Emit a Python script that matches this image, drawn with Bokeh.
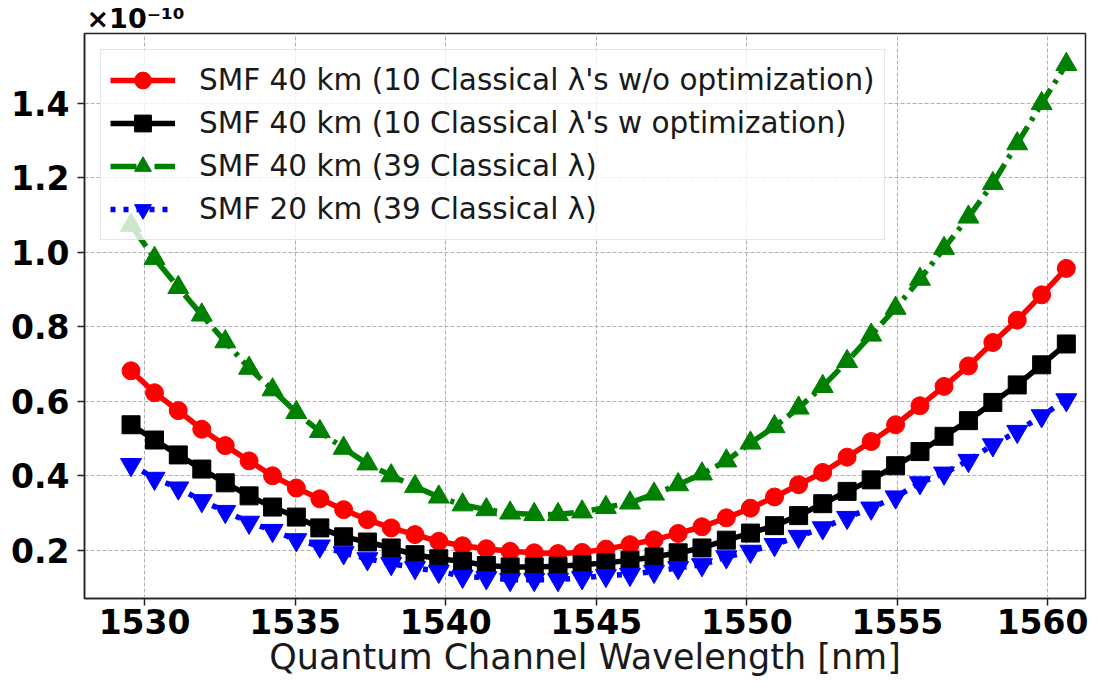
from bokeh.plotting import figure
from bokeh.models import FixedTicker, Legend, LegendItem, Range1d
from bokeh.embed import file_html
from bokeh.resources import INLINE

# ---- data (values in units of 1e-10) ----
wavelength_nm = [1529.55, 1530.33, 1531.12, 1531.90, 1532.68, 1533.47, 1534.25, 1535.04,
                 1535.82, 1536.61, 1537.40, 1538.19, 1538.98, 1539.77, 1540.56, 1541.35,
                 1542.14, 1542.94, 1543.73, 1544.53, 1545.32, 1546.12, 1546.92, 1547.72,
                 1548.51, 1549.32, 1550.12, 1550.92, 1551.72, 1552.52, 1553.33, 1554.13,
                 1554.94, 1555.75, 1556.55, 1557.36, 1558.17, 1558.98, 1559.79, 1560.61]

smf40_10_no_opt = [0.682, 0.623, 0.575, 0.525, 0.481, 0.440, 0.400, 0.367, 0.338, 0.309,
                   0.282, 0.260, 0.242, 0.224, 0.212, 0.204, 0.197, 0.193, 0.191, 0.194,
                   0.203, 0.215, 0.228, 0.245, 0.263, 0.287, 0.313, 0.343, 0.376, 0.409,
                   0.450, 0.492, 0.537, 0.588, 0.640, 0.695, 0.758, 0.818, 0.886, 0.957]

smf40_10_opt = [0.537, 0.496, 0.456, 0.418, 0.381, 0.346, 0.316, 0.289, 0.260, 0.236,
                0.222, 0.206, 0.188, 0.177, 0.170, 0.159, 0.155, 0.155, 0.157, 0.161,
                0.166, 0.173, 0.182, 0.193, 0.206, 0.227, 0.246, 0.266, 0.293, 0.325,
                0.358, 0.389, 0.427, 0.465, 0.506, 0.548, 0.597, 0.644, 0.698, 0.754]

smf40_39 = [1.073, 0.984, 0.906, 0.832, 0.760, 0.689, 0.631, 0.570, 0.519, 0.474,
            0.432, 0.400, 0.371, 0.343, 0.322, 0.309, 0.300, 0.296, 0.296, 0.303,
            0.315, 0.327, 0.351, 0.376, 0.405, 0.440, 0.488, 0.532, 0.582, 0.640,
            0.707, 0.778, 0.850, 0.928, 1.011, 1.095, 1.185, 1.292, 1.400, 1.505]

smf20_39 = [0.430, 0.393, 0.367, 0.333, 0.304, 0.275, 0.253, 0.228, 0.211, 0.193,
            0.177, 0.164, 0.153, 0.143, 0.130, 0.126, 0.121, 0.121, 0.121, 0.126,
            0.132, 0.135, 0.143, 0.153, 0.161, 0.182, 0.197, 0.215, 0.237, 0.260,
            0.288, 0.313, 0.343, 0.381, 0.407, 0.441, 0.483, 0.519, 0.561, 0.604]

series_labels = ["SMF 40 km (10 Classical \u03bb's w/o optimization)",
                 "SMF 40 km (10 Classical \u03bb's w optimization)",
                 "SMF 40 km (39 Classical \u03bb)",
                 "SMF 20 km (39 Classical \u03bb)"]

x_ticks = [1530, 1535, 1540, 1545, 1550, 1555, 1560]
y_ticks = [0.2, 0.4, 0.6, 0.8, 1.0, 1.2, 1.4]
y_tick_labels = ["0.2", "0.4", "0.6", "0.8", "1.0", "1.2", "1.4"]
x_label = "Quantum Channel Wavelength [nm]"
offset_text = "\u00d710\u207b\u00b9\u2070"

FONT = "DejaVu Sans"
X0, X1 = 1528.005, 1561.247
Y0, Y1 = 0.0703, 1.588

p = figure(width=1088, height=679, output_backend="svg", toolbar_location=None,
           x_range=Range1d(X0, X1), y_range=Range1d(Y0, Y1),
           min_border_left=84, min_border_right=3, min_border_top=33, min_border_bottom=80)
p.background_fill_color = "white"
p.border_fill_color = "white"
p.outline_line_color = "#222222"
p.outline_line_width = 1.5

# offset text (x10^-10) shown as the title, left aligned above the frame
p.title.text = offset_text
p.title.align = "left"
p.title.offset = 2
p.title.standoff = 0
p.title.text_font = FONT
p.title.text_font_style = "bold"
p.title.text_font_size = "27px"
p.title.text_color = "black"

# axes
for ax in (p.xaxis[0], p.yaxis[0]):
    ax.major_label_text_font = FONT
    ax.major_label_text_font_style = "bold"
    ax.major_label_text_font_size = "33px"
    ax.major_label_text_color = "black"
    ax.axis_line_color = "#222222"
    ax.axis_line_width = 1.5
    ax.major_tick_line_color = "#222222"
    ax.major_tick_line_width = 1.5
    ax.major_tick_out = 7
    ax.major_tick_in = 0
    ax.minor_tick_line_color = None

p.xaxis.ticker = FixedTicker(ticks=x_ticks)
p.yaxis.ticker = FixedTicker(ticks=y_ticks)
p.yaxis.major_label_overrides = {t: s for t, s in zip(y_ticks, y_tick_labels)}
p.xaxis.major_label_standoff = 3
p.yaxis.major_label_standoff = 8
p.xaxis.axis_label = x_label
p.xaxis.axis_label_text_font = FONT
p.xaxis.axis_label_text_font_style = "normal"
p.xaxis.axis_label_text_font_size = "35px"
p.xaxis.axis_label_text_color = "#1a1a1a"
p.xaxis.axis_label_standoff = 0

# grid
for g in (p.xgrid[0], p.ygrid[0]):
    g.grid_line_color = "#b0b0b0"
    g.grid_line_dash = "4 2"
    g.grid_line_width = 1

# series
styles = [
    dict(data=smf40_10_no_opt, color="#ff0000", marker="circle", size=18, dash="solid", lw=5.5),
    dict(data=smf40_10_opt, color="#000000", marker="square", size=18, dash="solid", lw=5.5),
    dict(data=smf40_39, color="#008000", marker="triangle", size=21, dash="26 7 4 7", lw=5.5),
    dict(data=smf20_39, color="#0000ff", marker="inverted_triangle", size=21, dash="5 8", lw=5.5),
]

items = []
for st, lab in zip(styles, series_labels):
    ln = p.line(wavelength_nm, st["data"], line_color=st["color"], line_width=st["lw"],
                line_dash=st["dash"])
    sc = p.scatter(wavelength_nm, st["data"], marker=st["marker"], size=st["size"],
                   fill_color=st["color"], line_color=st["color"])
    items.append(LegendItem(label=lab, renderers=[ln, sc]))

legend = Legend(items=items, location="top_left")
legend.label_text_font = FONT
legend.label_text_font_size = "29.5px"
legend.label_text_color = "#1a1a1a"
legend.glyph_width = 65
legend.glyph_height = 42
legend.label_height = 42
legend.spacing = 1
legend.padding = 9
legend.margin = 16
legend.label_standoff = 24
legend.background_fill_color = "white"
legend.background_fill_alpha = 0.8
legend.border_line_color = "#cccccc"
legend.border_line_width = 1.5
p.add_layout(legend)

open("out.html", "w").write(file_html(p, INLINE))
